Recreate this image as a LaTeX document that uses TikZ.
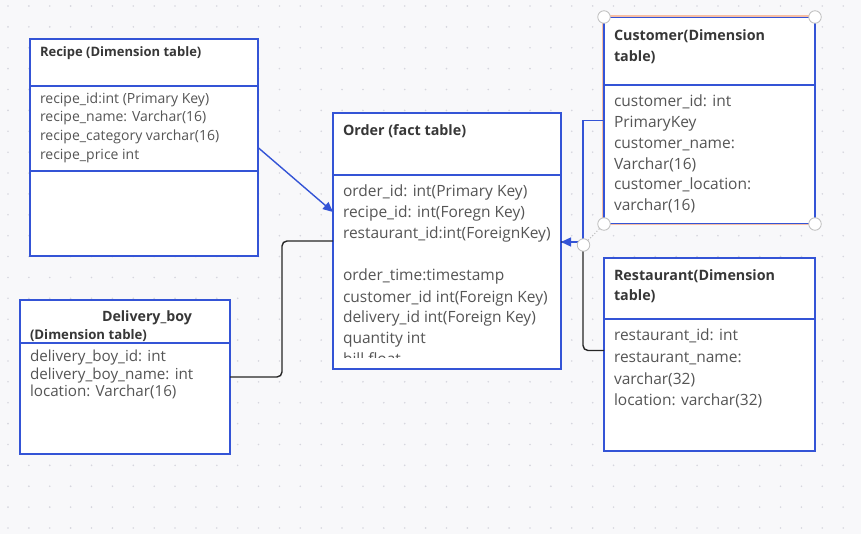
\documentclass[tikz,border=0pt]{standalone}
\usepackage{fontspec}
\setmainfont{Open Sans}
\usetikzlibrary{arrows.meta,calc}
\definecolor{tblue}{RGB}{52,84,214}
\definecolor{bgc}{RGB}{248,248,250}
\definecolor{dotc}{RGB}{214,214,222}
\definecolor{txt}{RGB}{85,85,85}
\definecolor{ttl}{RGB}{55,55,55}
\definecolor{selor}{RGB}{246,190,165}
\definecolor{hdl}{RGB}{190,190,190}
\tikzset{
  tbl/.style={draw=tblue, line width=1.8pt, fill=white, inner sep=0pt, outer sep=0pt, anchor=north west},
  div/.style={draw=tblue, line width=1.3pt},
  tx/.style={anchor=base west, inner sep=0pt, outer sep=0pt, text=txt},
  ttx/.style={anchor=base west, inner sep=0pt, outer sep=0pt, text=ttl, font=\bfseries},
  bconn/.style={draw=tblue, line width=1.4pt},
  kconn/.style={draw=black!85, line width=1.4pt, rounded corners=5pt},
  handle/.style={circle, draw=hdl, fill=white, line width=0.8pt, minimum size=12.5pt, inner sep=0pt},
}
\newcommand{\fa}{\fontsize{14}{16}\selectfont}
\newcommand{\fat}{\fontsize{13}{16}\selectfont}
\newcommand{\fb}{\fontsize{15.5}{18}\selectfont}
\newcommand{\fbt}{\fontsize{14.3}{17}\selectfont}
\begin{document}
\begin{tikzpicture}[x=1pt,y=-1pt]
\useasboundingbox (0,0) rectangle (861,534);
\fill[bgc] (0,0) rectangle (861,534);
\foreach \i in {0,...,41}{\foreach \j in {0,...,25}{
  \fill[dotc] ({8+20.88*\i},{6+20.88*\j}) circle (0.9);}}

% tables
\node[tbl, minimum width=228pt, minimum height=217pt] (recipe) at (30,39) {};
\node[tbl, minimum width=228pt, minimum height=256pt] (order) at (333,113) {};
\node[draw=selor, line width=3.6pt, inner sep=0pt, outer sep=0pt, anchor=north west, minimum width=211pt, minimum height=207pt] (custsel) at (603.6,16.6) {};
\node[tbl, minimum width=211pt, minimum height=206pt] (customer) at (604,17.5) {};
\node[tbl, minimum width=211pt, minimum height=193pt] (restaurant) at (604,258) {};
\node[tbl, minimum width=210pt, minimum height=154pt] (delivery) at (20,300) {};

% dividers
\draw[div] (recipe.west |- 0,86) -- (recipe.east |- 0,86);
\draw[div] (recipe.west |- 0,171) -- (recipe.east |- 0,171);
\draw[div] (order.west |- 0,175) -- (order.east |- 0,175);
\draw[div] (customer.west |- 0,85) -- (customer.east |- 0,85);
\draw[div] (restaurant.west |- 0,319) -- (restaurant.east |- 0,319);
\draw[div] (delivery.west |- 0,343) -- (delivery.east |- 0,343);

% Recipe texts
\node[ttx, font=\bfseries\fat] (rt) at (40,56.5) {Recipe (Dimension table)};
\node[tx, font=\fa] (r1) at (40,103.3) {recipe\_id:int (Primary Key)};
\node[tx, font=\fa] (r2) at (40,122) {recipe\_name: Varchar(16)};
\node[tx, font=\fa] (r3) at (40,140.7) {recipe\_category varchar(16)};
\node[tx, font=\fa] (r4) at (40,159.4) {recipe\_price int};

% Order texts
\node[ttx, font=\bfseries\fbt] (ot) at (343,136) {Order (fact table)};
\node[tx, font=\fb] (o1) at (343,197) {order\_id: int(Primary Key)};
\node[tx, font=\fb] (o2) at (343,218) {recipe\_id: int(Foregn Key)};
\node[tx, font=\fb] (o3) at (343,239) {restaurant\_id:int(ForeignKey)};
\node[tx, font=\fb] (o4) at (343,281) {order\_time:timestamp};
\node[tx, font=\fb] (o5) at (343,302) {customer\_id int(Foreign Key)};
\node[tx, font=\fb] (o6) at (343,323) {delivery\_id int(Foreign Key)};
\node[tx, font=\fb] (o7) at (343,343.5) {quantity int};
\begin{scope}
\clip (334,176) rectangle (560,357);
\node[tx, font=\fb] (o8) at (343,364.5) {bill float};
\end{scope}

% Customer texts
\node[ttx, font=\bfseries\fbt] (ct1) at (614,40.7) {Customer(Dimension};
\node[ttx, font=\bfseries\fbt] (ct2) at (614,61.7) {table)};
\node[tx, font=\fb] (c1) at (614,106.7) {customer\_id: int};
\node[tx, font=\fb] (c2) at (614,127.7) {PrimaryKey};
\node[tx, font=\fb] (c3) at (614,148.4) {customer\_name:};
\node[tx, font=\fb] (c4) at (614,169.2) {Varchar(16)};
\node[tx, font=\fb] (c5) at (614,190) {customer\_location:};
\node[tx, font=\fb] (c6) at (614,210.8) {varchar(16)};

% Restaurant texts
\node[ttx, font=\bfseries\fbt] (st1) at (614,280) {Restaurant(Dimension};
\node[ttx, font=\bfseries\fbt] (st2) at (614,301) {table)};
\node[tx, font=\fb] (s1) at (614,340) {restaurant\_id: int};
\node[tx, font=\fb] (s2) at (614,362.7) {restaurant\_name:};
\node[tx, font=\fb] (s3) at (614,384.3) {varchar(32)};
\node[tx, font=\fb] (s4) at (614,405.7) {location: varchar(32)};

% Delivery texts
\node[ttx, font=\bfseries\fontsize{14.2}{17}\selectfont] (dt1) at (102,321) {Delivery\_boy};
\node[ttx, font=\bfseries\fontsize{13.2}{16}\selectfont] (dt2) at (30,339) {(Dimension table)};
\node[tx, font=\fontsize{15.2}{18}\selectfont] (d1) at (30,361.7) {delivery\_boy\_id: int};
\node[tx, font=\fontsize{15.2}{18}\selectfont] (d2) at (30,379) {delivery\_boy\_name: int};
\node[tx, font=\fontsize{15.2}{18}\selectfont] (d3) at (30,396.7) {location: Varchar(16)};

% connectors
\coordinate (oin1) at (333,212);
\coordinate (dmid) at (282,0);
\coordinate (cmid) at (583,0);
\coordinate (oin2) at (561,242);
\coordinate (rin) at (604,350.5);

\draw[bconn, -{Triangle[length=10pt,width=9pt]}] (recipe.east) -- (oin1);
\draw[kconn] (delivery.east) -| (dmid |- order.west) -- (order.west);
\draw[kconn] (rin) -| (cmid |- oin2) -- (oin2);
\draw[bconn, -{Triangle[length=10pt,width=9pt]}] (customer.west) -| (cmid |- oin2) -- (oin2);

% selection handles
\node[handle] (h1) at (604,17) {};
\node[handle] (h2) at (815,17) {};
\node[handle] (h3) at (604,224) {};
\node[handle] (h4) at (815,224) {};
\node[handle] (h5) at (583.5,245) {};
\draw[hdl, dotted, line width=1pt] (h3) -- (h5);
\end{tikzpicture}
\end{document}
